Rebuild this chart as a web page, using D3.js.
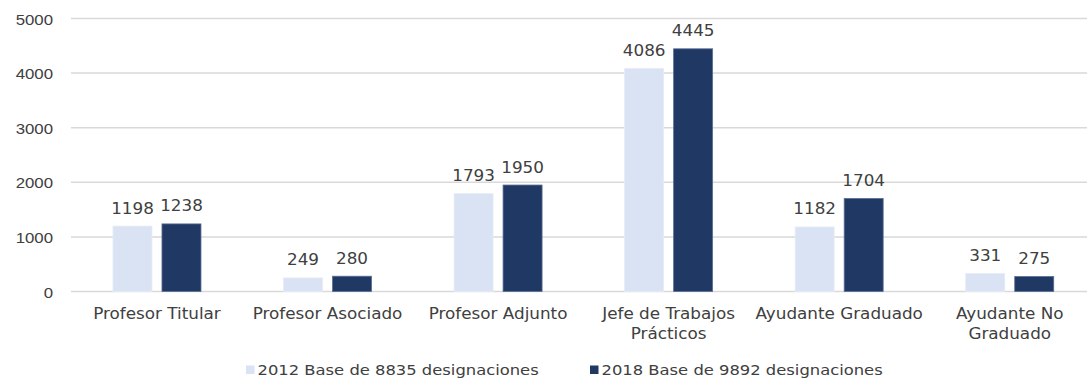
<!DOCTYPE html>
<html>
<head>
<meta charset="utf-8">
<script src="https://cdn.jsdelivr.net/npm/d3@7"></script>
<style>
  html, body { margin: 0; padding: 0; background: #ffffff; }
  svg { display: block; font-family: "DejaVu Sans", sans-serif; }
</style>
</head>
<body>
<svg id="chart" width="1087" height="378"></svg>
<script>
// Cargos docentes, designaciones 2012 vs 2018
const categories = [
  ["Profesor Titular"],
  ["Profesor Asociado"],
  ["Profesor Adjunto"],
  ["Jefe de Trabajos", "Prácticos"],
  ["Ayudante Graduado"],
  ["Ayudante No", "Graduado"]
];
const seriesNames = ["2012 Base de 8835 designaciones", "2018 Base de 9892 designaciones"];
const values2012 = [1198, 249, 1793, 4086, 1182, 331];
const values2018 = [1238, 280, 1950, 4445, 1704, 275];
const yTicks = [0, 1000, 2000, 3000, 4000, 5000];
const colors = ["#dae3f3", "#203864"];

const svg = d3.select("#chart");
const textColor = "#404040";
const fontSize = 15;
const stretch = 1.12;

// text helper: places a horizontally widened label at (px, py)
function label(parent, px, py, anchor, size, sx) {
  return parent.append("text")
    .attr("transform", `translate(${px},${py}) scale(${sx},1)`)
    .attr("text-anchor", anchor)
    .attr("fill", textColor)
    .attr("font-size", size + "px");
}

const x = d3.scaleBand()
  .domain(d3.range(categories.length))
  .range([71.7, 1095])
  .paddingInner(0)
  .paddingOuter(0);

const y = d3.scaleLinear().domain([0, 5000]).range([291.5, 18.5]);

// horizontal gridlines
svg.append("g")
  .selectAll("line")
  .data(yTicks)
  .join("line")
  .attr("x1", 71)
  .attr("x2", 1087)
  .attr("y1", d => y(d))
  .attr("y2", d => y(d))
  .attr("stroke", "#d9d9d9")
  .attr("stroke-width", 1.5);

// y axis labels
const yAxis = d3.axisLeft(y).tickValues(yTicks).tickSize(0).tickPadding(0).tickFormat(d3.format("d"));
const yg = svg.append("g").attr("transform", "translate(53,0)").call(yAxis);
yg.select(".domain").remove();
yg.selectAll("text").remove();
yg.selectAll(".tick").each(function(d) {
  label(d3.select(this), 0, 5.5, "end", fontSize, stretch).text(d3.format("d")(d));
});

// bars
const barW = 39;
const gap = 10;
const series = [values2012, values2018];
series.forEach((vals, si) => {
  const offset = si === 0 ? -gap / 2 - barW : gap / 2;
  const g = svg.append("g");
  g.selectAll("rect")
    .data(vals)
    .join("rect")
    .attr("x", (d, i) => x(i) + x.bandwidth() / 2 + offset)
    .attr("y", d => y(d))
    .attr("width", barW)
    .attr("height", d => y(0) - y(d))
    .attr("fill", colors[si])
    .attr("stroke", si === 0 ? "#e6ecf7" : "#5a6f95")
    .attr("stroke-width", 0.8);
  vals.forEach((d, i) => {
    label(g, x(i) + x.bandwidth() / 2 + offset + barW / 2, y(d) - 12.5, "middle", fontSize, stretch).text(d);
  });
});

// category labels
const cat = svg.append("g");
categories.forEach((lines, i) => {
  lines.forEach((ln, k) => {
    label(cat, x(i) + x.bandwidth() / 2, 319 + k * 19.5, "middle", fontSize, stretch).text(ln);
  });
});

// legend
const legendX = [246, 590];
const legend = svg.append("g");
seriesNames.forEach((name, i) => {
  legend.append("rect")
    .attr("x", legendX[i])
    .attr("y", 365.5)
    .attr("width", 8.5)
    .attr("height", 8.5)
    .attr("fill", colors[i]);
  label(legend, legendX[i] + 11.5, 374.5, "start", 14, 1.17).text(name);
});
</script>
</body>
</html>
